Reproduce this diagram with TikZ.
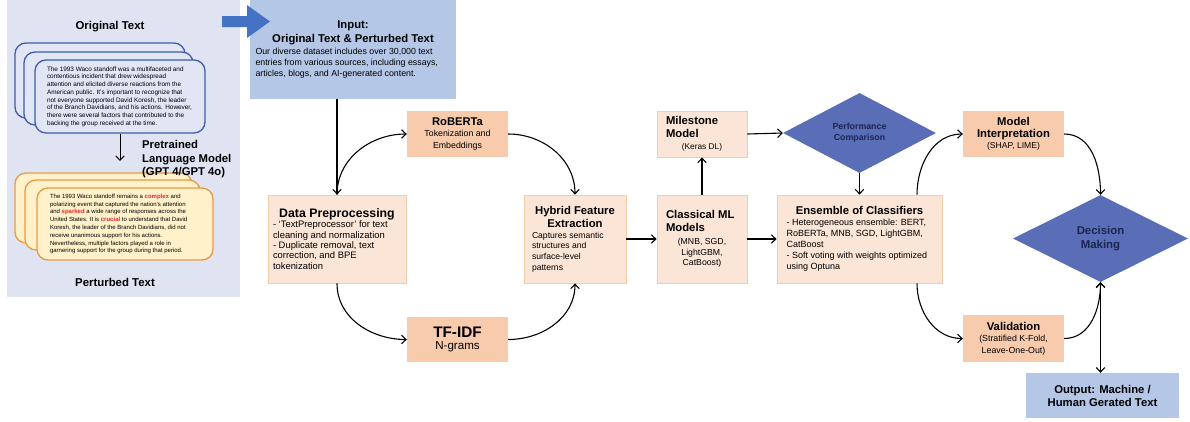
\documentclass[tikz,border=0pt]{standalone}
\usepackage{fontspec}
\setmainfont{Liberation Sans}
\usetikzlibrary{arrows.meta,shapes.geometric}
\definecolor{panelbg}{HTML}{DFE3F2}
\definecolor{bstackb}{HTML}{3E5EA8}
\definecolor{bstackf}{HTML}{E1E5F4}
\definecolor{ostackb}{HTML}{EA9A45}
\definecolor{ostackf}{HTML}{FFF1C9}
\definecolor{dpeach}{HTML}{F8CBAD}
\definecolor{lpeach}{HTML}{FBE5D6}
\definecolor{lpeachb}{HTML}{F6CBA8}
\definecolor{iobox}{HTML}{B4C7E7}
\definecolor{diamf}{HTML}{5A6DB7}
\definecolor{diamt}{HTML}{1C2552}
\definecolor{barrow}{HTML}{4472C4}
\definecolor{redword}{HTML}{E8262A}
\newcommand\myfs[2]{\fontsize{#1}{#2}\selectfont}
\newcommand\rw[1]{\textcolor{redword}{\bfseries #1}}
\begin{document}
\begin{tikzpicture}[x=1pt,y=-1pt,
  conn/.style={draw=black, line width=1.1pt, -{Straight Barb[length=4.5pt,width=8.5pt]}},
  dconn/.style={draw=black, line width=1.1pt, {Straight Barb[length=4.5pt,width=8.5pt]}-{Straight Barb[length=4.5pt,width=8.5pt]}},
  lbox/.style={rectangle, draw=lpeachb, fill=lpeach, line width=0.8pt, inner sep=0pt},
  dbox/.style={rectangle, fill=dpeach, inner sep=0pt, align=center},
  iob/.style={rectangle, fill=iobox, inner sep=0pt, align=center},
  bstack/.style={rectangle, rounded corners=11pt, draw=bstackb, fill=bstackf, line width=1.3pt, inner sep=0pt},
  ostack/.style={rectangle, rounded corners=11pt, draw=ostackb, fill=ostackf, line width=1.3pt, inner sep=0pt},
  diam/.style={diamond, fill=diamf, inner sep=0pt, align=center, text=diamt},
  ptitle/.style={font=\myfs{11.4}{13.5}\bfseries, inner sep=0pt}
]
\useasboundingbox (0,0) rectangle (1190,421);

% left panel
\fill[panelbg] (7,0) rectangle (240,297);
\node[ptitle] (ottl) at (110,27) {Original Text};
\node[bstack, minimum width=170pt, minimum height=75pt] (b1) at (100,80.5) {};
\node[bstack, minimum width=169pt, minimum height=73pt] (b2) at (108.5,88.5) {};
\node[bstack, minimum width=170pt, minimum height=73pt] (b3) at (120,96.5) {\begin{minipage}{146pt}\raggedright\myfs{6.4}{7.7}%
The 1993 Waco standoff was a multifaceted and\\
contentious incident that drew widespread\\
attention and elicited diverse reactions from the\\
American public. It’s important to recognize that\\
not everyone supported David Koresh, the leader\\
of the Branch Davidians, and his actions. However,\\
there were several factors that contributed to the\\
backing the group received at the time.\end{minipage}};
\coordinate (ptip) at (120,161);
\draw[conn, line width=1pt] (b3.south) -- (ptip);
\node[ostack, minimum width=177pt, minimum height=70pt] (o1) at (103.5,208) {};
\node[ostack, minimum width=175pt, minimum height=70pt] (o2) at (112.5,215) {};
\node[ostack, minimum width=176pt, minimum height=72pt] (o3) at (125,224) {\begin{minipage}{150pt}\raggedright\myfs{6.0}{7.8}%
The 1993 Waco standoff remains a \rw{complex} and\\
polarizing event that captured the nation’s attention\\
and \rw{sparked} a wide range of responses across the\\
United States. It is \rw{crucial} to understand that David\\
Koresh, the leader of the Branch Davidians, did not\\
receive unanimous support for his actions.\\
Nevertheless, multiple factors played a role in\\
garnering support for the group during that period.\end{minipage}};
\node[font=\myfs{11.3}{13.5}\bfseries, align=left, anchor=west, inner sep=0pt] (plm) at (142,159.5) {Pretrained\\Language Model\\(GPT 4/GPT 4o)};
\node[ptitle] (pttl) at (115,282) {Perturbed Text};

% input box
\node[iob, minimum width=206pt, minimum height=99pt] (inp) at (353,49.5) {\begin{minipage}{195pt}{\centering\myfs{11.3}{14.5}\bfseries Input:\\Original Text \& Perturbed Text\par}\raggedright\myfs{8.8}{11.2}%
Our diverse dataset includes over 30,000 text\\
entries from various sources, including essays,\\
articles, blogs, and AI-generated content.\end{minipage}};
\fill[barrow] (222,16) -- (247,16) -- (247,5) -- (270,21.5) -- (247,38) -- (247,27) -- (222,27) -- cycle;

% boxes
\node[lbox, minimum width=138pt, minimum height=88pt] (dp) at (337,239) {\begin{minipage}{128pt}{\centering\myfs{12.3}{14}\bfseries Data Preprocessing\par}\raggedright\myfs{9.4}{10.3}%
- ‘TextPreprocessor’ for text\\
cleaning and normalization\\
- Duplicate removal, text\\
correction, and BPE\\
tokenization\end{minipage}};
\node[dbox, minimum width=101pt, minimum height=46pt] (rob) at (457.5,134) {{\myfs{11.2}{13}\bfseries RoBERTa}\\[-1pt]{\myfs{8.8}{10.5}Tokenization and}\\{\myfs{8.8}{10.5}Embeddings}};
\node[dbox, minimum width=101pt, minimum height=45pt] (tfidf) at (457.5,339.5) {{\myfs{15.3}{16}\bfseries TF-IDF}\\{\myfs{11.6}{13}N-grams}};
\node[lbox, minimum width=102pt, minimum height=88pt] (hyb) at (575,239) {\begin{minipage}{86pt}{\centering\myfs{11.3}{13.5}\bfseries Hybrid Feature\\Extraction\par}\raggedright\myfs{8.6}{10.7}%
Captures semantic\\
structures and\\
surface-level\\
patterns\end{minipage}};
\node[lbox, minimum width=90pt, minimum height=88pt] (cml) at (702,239) {\begin{minipage}{72pt}{\raggedright\myfs{11.3}{13.3}\bfseries Classical ML\\Models\par}\vspace{2pt}{\centering\myfs{8.7}{10.7}%
(MNB, SGD,\\
LightGBM,\\
CatBoost)\par}\end{minipage}};
\node[lbox, minimum width=90pt, minimum height=46pt] (ms) at (702,134) {\begin{minipage}{72pt}{\raggedright\myfs{11.3}{13}\bfseries Milestone\\Model\par}{\centering\myfs{8.3}{12}(Keras DL)\par}\end{minipage}};
\node[diam, minimum width=153pt, minimum height=80pt, font=\myfs{8.8}{11}\bfseries] (perf) at (859.5,133) {Performance\\Comparison};
\node[lbox, minimum width=165pt, minimum height=88pt] (ens) at (859.5,239) {\begin{minipage}{146pt}{\centering\myfs{11.3}{13}\bfseries Ensemble of Classifiers\par}\raggedright\myfs{9.0}{11}%
- Heterogeneous ensemble: BERT,\\
RoBERTa, MNB, SGD, LightGBM,\\
CatBoost\\
- Soft voting with weights optimized\\
using Optuna\end{minipage}};
\node[dbox, minimum width=101pt, minimum height=46pt] (mi) at (1013.5,134) {{\myfs{11.3}{13}\bfseries Model}\\{\myfs{11.3}{13}\bfseries Interpretation}\\[-1pt]{\myfs{8.6}{10.5}(SHAP, LIME)}};
\node[dbox, minimum width=101pt, minimum height=47pt] (val) at (1013.5,338.5) {{\myfs{11.3}{13}\bfseries Validation}\\[-1pt]{\myfs{8.8}{10.5}(Stratified K-Fold,}\\{\myfs{8.8}{10.5}Leave-One-Out)}};
\node[diam, minimum width=175pt, minimum height=87pt, font=\myfs{11.4}{14}\bfseries] (dec) at (1100.5,238.5) {Decision\\Making};
\node[iob, minimum width=153pt, minimum height=45pt, font=\myfs{11.3}{13}\bfseries] (outb) at (1102.5,395.5) {Output: Machine /\\Human Gerated Text};

% connectors
\draw[conn] (inp.south -| dp.north) -- (dp.north);
\draw[conn] (dp.north) to[out=90, in=180] (rob.west);
\draw[conn] (dp.south) to[out=-90, in=180] (tfidf.west);
\draw[conn] (rob.east) to[out=0, in=90] (hyb.north);
\draw[conn] (tfidf.east) to[out=0, in=-90] (hyb.south);
\draw[conn] (hyb.east) -- (cml.west);
\draw[conn] (cml.north) -- (ms.south);
\draw[conn] (ms.east) -- (perf.west);
\draw[conn] (perf.south) -- (ens.north);
\draw[conn] (cml.east) -- (ens.west);
\draw[conn] ([xshift=57.5pt]ens.north) to[out=90, in=180] (mi.west);
\draw[conn] ([xshift=57.5pt]ens.south) to[out=-90, in=180] (val.west);
\draw[conn] (mi.east) to[out=0, in=90] (dec.north);
\draw[conn] (val.east) to[out=0, in=-90] (dec.south);
\draw[dconn] (dec.south) -- (dec.south |- outb.north);
\end{tikzpicture}
\end{document}
